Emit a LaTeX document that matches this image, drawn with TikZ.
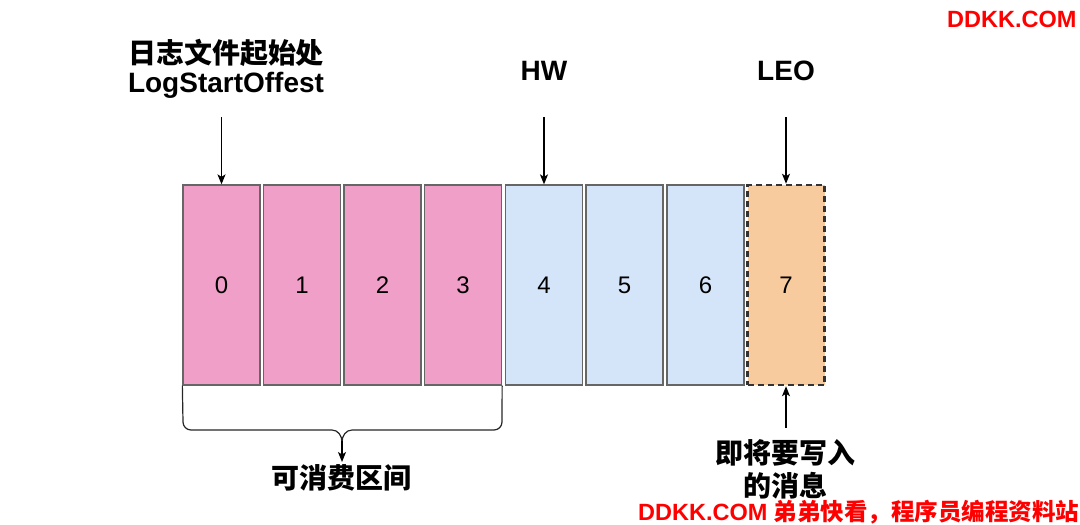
\documentclass[tikz,border=0pt]{standalone}
\usepackage{fontspec}
\setmainfont{Liberation Sans}
\newfontfamily\cjk{Noto Sans CJK SC}
\usetikzlibrary{arrows.meta}
\definecolor{pinkfill}{HTML}{F0A0C8}
\definecolor{bluefill}{HTML}{D4E5FA}
\definecolor{orangefill}{HTML}{F7CB9D}
\definecolor{boxline}{HTML}{666666}
\definecolor{darkline}{HTML}{333333}
\definecolor{wmred}{HTML}{FF0000}
\tikzset{
  seg/.style={draw=boxline, line width=1.3pt, minimum width=77pt, minimum height=200pt,
    inner sep=0pt, font=\fontsize{24}{24}\selectfont},
  consumed/.style={seg, fill=pinkfill},
  pending/.style={seg, fill=bluefill},
  writing/.style={seg, fill=orangefill, draw=darkline, line width=2.5pt, dash pattern=on 6pt off 4pt},
  pointer/.style={draw=black, line width=1.2pt, -{Stealth[length=10pt,width=8pt,inset=2.5pt]}},
  lbl/.style={anchor=base, inner sep=0pt, font=\fontsize{28}{28}\selectfont\bfseries},
  cjklbl/.style={anchor=base, inner sep=0pt, font=\fontsize{28}{28}\selectfont\cjk\bfseries},
  wm/.style={anchor=base west, inner sep=0pt, text=wmred, font=\fontsize{23.5}{24}\selectfont\bfseries}
}
\begin{document}
\begin{tikzpicture}[x=1pt,y=-1pt]
\useasboundingbox (0,0) rectangle (1080,525);
% segments
\node[consumed] (b0) at (221.5,285) {0};
\node[consumed] (b1) at (302,285) {1};
\node[consumed] (b2) at (382.5,285) {2};
\node[consumed] (b3) at (463,285) {3};
\node[pending]  (b4) at (544,285) {4};
\node[pending]  (b5) at (624.5,285) {5};
\node[pending]  (b6) at (705.5,285) {6};
\node[writing]  (b7) at (786,285) {7};
% top labels
\node[cjklbl] (lsA) at (226,63) {日志文件起始处};
\node[lbl] (lsB) at (226,92) {LogStartOffest};
\node[lbl] (hw) at (544,80) {HW};
\node[lbl] (leo) at (786,80) {LEO};
% pointers
\coordinate (p0) at (221.5,117);
\coordinate (p4) at (544,117);
\coordinate (p7) at (786,117);
\coordinate (q7) at (786,428);
\draw[pointer] (p0) -- (b0.north);
\draw[pointer] (p4) -- (b4.north);
\draw[pointer] (p7) -- (b7.north);
\draw[pointer] (q7) -- (b7.south);
% bottom label
\node[cjklbl] (newA) at (785,463) {即将要写入};
\node[cjklbl] (newB) at (785,496) {的消息};
% brace
\coordinate (bt) at (342,462);
\draw[draw=black!85, line width=1.2pt] (b0.south west) -- (183,422) to[out=-90,in=180] (191,430) -- (332,430)
  to[out=0,in=90] (342,442);
\draw[draw=black!85, line width=1.2pt] (b3.south east) -- (502,422) to[out=-90,in=0] (494,430) -- (352,430)
  to[out=180,in=90] (342,442);
\draw[pointer] (342,441) -- (bt);
\node[cjklbl] (range) at (341,488) {可消费区间};
% watermarks
\node[wm] (wm1) at (947,27) {DDKK.COM};
\node[wm] (wm2) at (638,520) {DDKK.COM {\cjk 弟弟快看，程序员编程资料站}};
\end{tikzpicture}
\end{document}
